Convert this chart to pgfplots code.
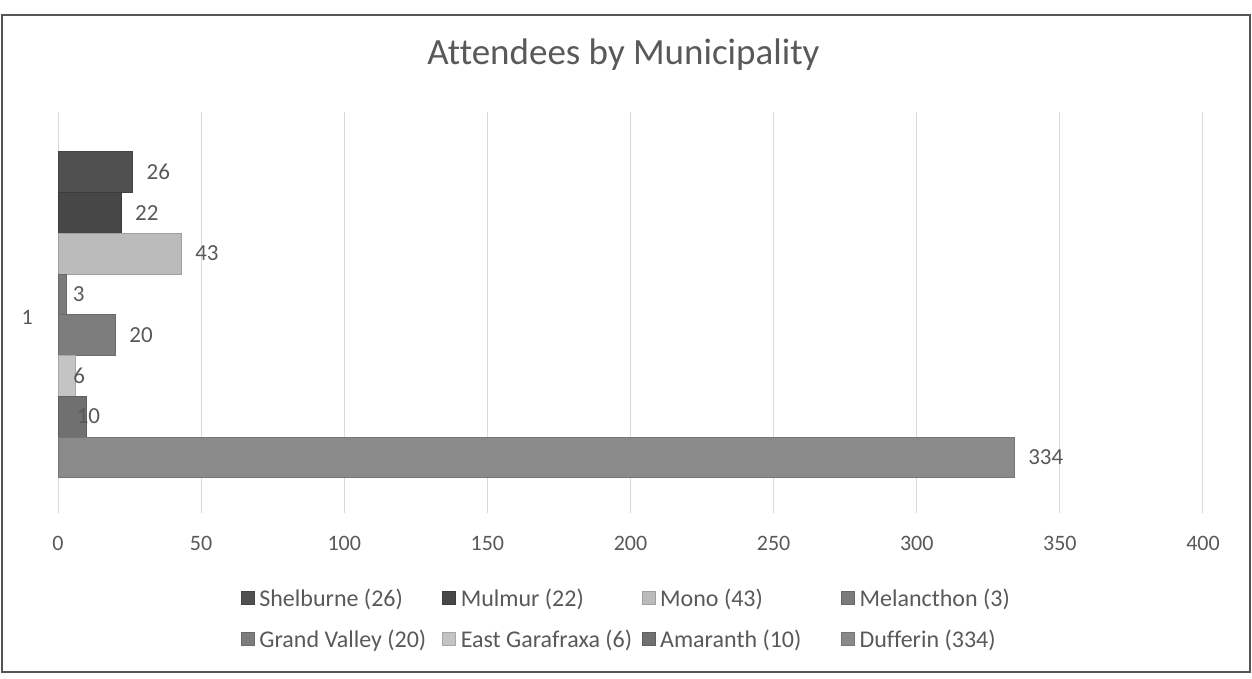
\documentclass[border=0pt]{standalone}
\usepackage{pgfplots}
\pgfplotsset{compat=1.18}
\usepackage{fontspec}
\setmainfont{Carlito}[Ligatures=NoCommon]
\definecolor{txt}{HTML}{595959}
\definecolor{frame}{HTML}{555555}
\definecolor{gridc}{HTML}{D9D9D9}
\definecolor{cShel}{HTML}{505050}
\definecolor{cMulm}{HTML}{474747}
\definecolor{cMono}{HTML}{BBBBBB}
\definecolor{cMela}{HTML}{7A7A7A}
\definecolor{cGran}{HTML}{7D7D7D}
\definecolor{cEast}{HTML}{C4C4C4}
\definecolor{cAmar}{HTML}{707070}
\definecolor{cDuff}{HTML}{8A8A8A}
\begin{document}
\begin{tikzpicture}[x=1pt,y=1pt]
\path[use as bounding box] (0,0) rectangle (1252,679);
\draw[color=frame, line width=2.5pt] (2,664) -- (1250,664) -- (1250,7) -- (2,7) -- cycle;
\begin{axis}[
  scale only axis, width=1145pt, height=401pt,
  at={(58pt,166pt)}, anchor=south west,
  xmin=0, xmax=400, ymin=0, ymax=2,
  xbar, bar width=40.75pt, point meta=x,
  /pgf/number format/assume math mode=true,
  nodes near coords,
  every node near coord/.append style={font=\fontsize{23}{27}\selectfont, text=txt, anchor=west, inner sep=0pt, xshift=14pt},
  legend image code/.code={\fill[#1] (0pt,-6.5pt) rectangle (13pt,6.5pt); \path (18pt,0pt);},
  legend columns=4, legend cell align=left,
  legend style={draw=none, fill=none, inner sep=0pt, outer sep=0pt, column sep=0pt, row sep=22pt,
    nodes={inner sep=0pt, font=\fontsize{24}{28}\selectfont, text=txt},
    at={(axis description cs:0.1598,-0.2631)}, anchor=west},
  axis line style={draw=none},
  major tick length=0pt,
  xtick={0,50,...,400},
  ytick={1}, yticklabels={1},
  xmajorgrids, grid style={gridc, line width=1pt},
  tick label style={font=\fontsize{22}{26}\selectfont, text=txt},
  xticklabel style={anchor=base, yshift=-37.5pt},
  yticklabel style={anchor=east, inner sep=0pt, xshift=-25pt, yshift=-5pt},
  title={Attendees by Municipality},
  title style={at={(axis description cs:0.4939,1)}, anchor=base, yshift=41pt, font=\fontsize{37}{41}\selectfont, text=txt},
]
\addplot[fill=cShel, draw=cShel!85!black, bar shift=140.6pt] coordinates {(26,1)};
\addlegendentry{\makebox[183pt][l]{Shelburne (26)}}
\addplot[fill=cMulm, draw=cMulm!85!black, bar shift=99.9pt] coordinates {(22,1)};
\addlegendentry{\makebox[181pt][l]{Mulmur (22)}}
\addplot[fill=cMono, draw=cMono!85!black, bar shift=59.1pt] coordinates {(43,1)};
\addlegendentry{\makebox[181pt][l]{Mono (43)}}
\addplot[fill=cMela, draw=cMela!85!black, bar shift=18.4pt, every node near coord/.append style={xshift=-8pt}] coordinates {(3,1)};
\addlegendentry{Melancthon (3)}
\addplot[fill=cGran, draw=cGran!85!black, bar shift=-22.4pt] coordinates {(20,1)};
\addlegendentry{Grand Valley (20)}
\addplot[fill=cEast, draw=cEast!85!black, bar shift=-63.1pt, every node near coord/.append style={xshift=-16pt}] coordinates {(6,1)};
\addlegendentry{East Garafraxa (6)}
\addplot[fill=cAmar, draw=cAmar!85!black, bar shift=-103.9pt, every node near coord/.append style={xshift=-24pt}] coordinates {(10,1)};
\addlegendentry{Amaranth (10)}
\addplot[fill=cDuff, draw=cDuff!85!black, bar shift=-144.6pt] coordinates {(334,1)};
\addlegendentry{Dufferin (334)}
\end{axis}
\end{tikzpicture}
\end{document}
